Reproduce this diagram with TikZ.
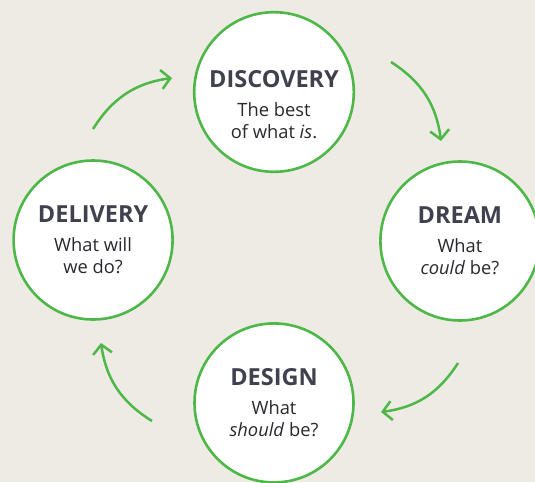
\documentclass[tikz,border=0pt]{standalone}
\usepackage{fontspec}
\setmainfont{Open Sans}
\usepackage{tikz}
\usetikzlibrary{positioning,arrows.meta}
\definecolor{leafgreen}{RGB}{77,184,72}
\definecolor{paperbeige}{RGB}{238,235,228}
\definecolor{slategray}{RGB}{64,65,78}
\definecolor{inkgray}{RGB}{40,40,46}
\newcommand{\phasename}[1]{{\color{slategray}\fontsize{23.5}{26}\selectfont\bfseries #1}}

\begin{document}
\begin{tikzpicture}[
        x=1pt, y=1pt,
        phase/.style={circle, draw=leafgreen, line width=2.6pt, fill=white, minimum size=159pt, inner sep=0pt, align=center, text=inkgray, font=\fontsize{18.3}{22}\selectfont},
        cycle/.style={-{Straight Barb[length=9pt, width=19pt]}, line width=2.5pt, leafgreen, bend left=25}
    ]
        % Background, cut at the page edge
        \clip (0,0) rectangle (535,-482);
        \fill[paperbeige] (0,0) rectangle (535,-482);

        % Phases
        \node[phase] (discovery) at (274,-92) {\rule{0pt}{42pt}\phasename{DISCOVERY}\\[7pt] The best\\ of what \textit{is}.};
        \node[phase, right=24pt of discovery, yshift=-149pt] (dream) {\phasename{DREAM}\\[7pt] What\\ \textit{could} be?};
        \node[phase, below=149pt of discovery] (design) {\phasename{DESIGN}\\[7pt] What\\ \textit{should} be?};
        \node[phase, left=19pt of discovery, yshift=-148pt] (delivery) {\phasename{DELIVERY}\\[7pt] What will\\ we do?};

        % Arrow ends
        \coordinate (tlA) at (93,-129);
        \coordinate (tlB) at (172,-78);
        \coordinate (trA) at (391,-62);
        \coordinate (trB) at (441,-141);
        \coordinate (brA) at (458,-363);
        \coordinate (brB) at (381,-412);
        \coordinate (blA) at (152,-421);
        \coordinate (blB) at (101,-343);

        % Arrows
        \draw[cycle] (tlA) to (tlB);
        \draw[cycle] (trA) to (trB);
        \draw[cycle] (brA) to (brB);
        \draw[cycle] (blA) to (blB);
    \end{tikzpicture}
\end{document}
